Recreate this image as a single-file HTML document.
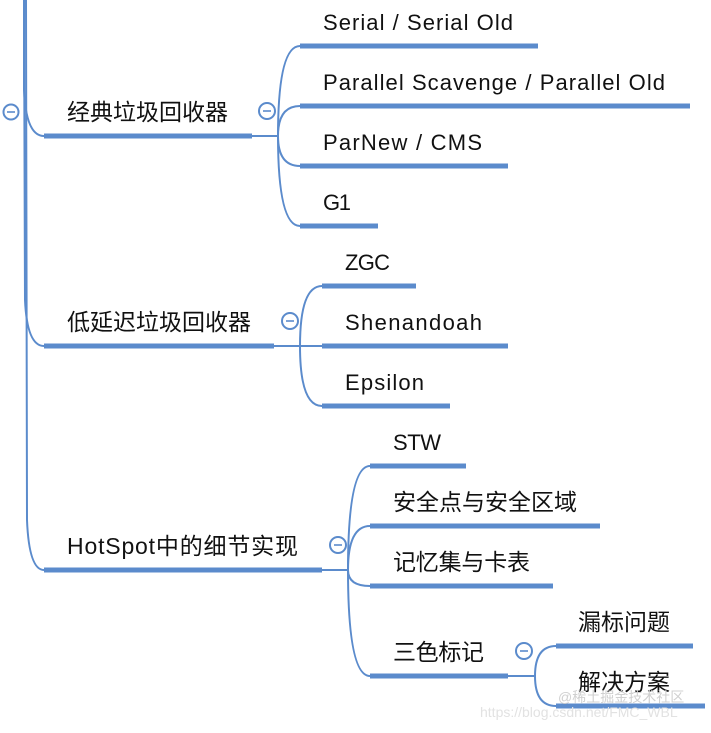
<!DOCTYPE html>
<html><head><meta charset="utf-8"><style>
body{margin:0;background:#fff;width:711px;height:728px;overflow:hidden}
svg text{font-family:"Liberation Sans","Noto Sans CJK SC",sans-serif;font-size:22px;fill:#111}
svg text.c{font-size:23px}
</style></head><body>
<svg width="711" height="728" viewBox="0 0 711 728">
<g fill="none" stroke="#5b8bcc" stroke-width="2">
<path d="M24,0 L24,90 Q26,136 44,136"/>
<path d="M24,0 L25,300 Q27,346 44,346"/>
<path d="M26,0 L27,520 Q29,570 44,570"/>
<circle cx="11" cy="112" r="7.5"/>
<path d="M252,136 L278,136"/>
<path d="M278,136 Q278,46 300,46"/><path d="M278,136 Q278,106 300,106"/><path d="M278,136 Q278,166 300,166"/><path d="M278,136 Q278,226 300,226"/>
<circle cx="267" cy="111" r="8"/>
<path d="M274,346 L322,346"/>
<path d="M300,346 Q300,286 322,286"/><path d="M300,346 Q300,406 322,406"/>
<circle cx="290" cy="321" r="8"/>
<path d="M322,570 L348,570"/>
<path d="M348,570 Q348,466 370,466"/><path d="M348,570 Q348,526 370,526"/><path d="M348,570 Q348,586 370,586"/><path d="M348,570 Q348,676 370,676"/>
<circle cx="338" cy="545" r="8"/>
<path d="M508,676 L535,676"/>
<path d="M535,676 Q535,646 556,646"/><path d="M535,676 Q535,706 556,706"/>
<circle cx="524" cy="651" r="8"/>
</g>
<g stroke="#5b8bcc" stroke-width="1.6">
<path d="M7,112h8"/><path d="M263,111h8"/><path d="M286,321h8"/><path d="M334,545h8"/><path d="M520,651h8"/>
</g>
<g stroke="#5b8bcc" stroke-width="5">
<path d="M44,136H252"/><path d="M300,46H538"/><path d="M300,106H690"/><path d="M300,166H508"/><path d="M300,226H378"/>
<path d="M44,346H274"/><path d="M322,286H416"/><path d="M322,346H508"/><path d="M322,406H450"/>
<path d="M44,570H322"/><path d="M370,466H466"/><path d="M370,526H600"/><path d="M370,586H553"/><path d="M370,676H508"/>
<path d="M556,646H693"/><path d="M556,706H705"/>
</g>
<text class="c" x="67" y="120" textLength="161">经典垃圾回收器</text>
<text x="323" y="30" textLength="190">Serial / Serial Old</text>
<text x="323" y="90" textLength="342">Parallel Scavenge / Parallel Old</text>
<text x="323" y="150" textLength="159">ParNew / CMS</text>
<text x="323" y="210" textLength="28">G1</text>
<text class="c" x="67" y="330" textLength="184">低延迟垃圾回收器</text>
<text x="345" y="270" textLength="45">ZGC</text>
<text x="345" y="330" textLength="137">Shenandoah</text>
<text x="345" y="390" textLength="79">Epsilon</text>
<text class="c" x="67" y="554" textLength="231">HotSpot中的细节实现</text>
<text x="393" y="450" textLength="48">STW</text>
<text class="c" x="393" y="510" textLength="184">安全点与安全区域</text>
<text class="c" x="393" y="570" textLength="137">记忆集与卡表</text>
<text class="c" x="393" y="660" textLength="91">三色标记</text>
<text class="c" x="578" y="630" textLength="92">漏标问题</text>
<text class="c" x="578" y="690" textLength="92">解决方案</text>
<text x="480" y="717" style="font-size:14px;fill:#e2e2e2">https://blog.csdn.net/FMC_WBL</text>
<text x="558" y="702" style="font-size:14px;fill:#d0d0d0">@稀土掘金技术社区</text>
</svg>
</body></html>
